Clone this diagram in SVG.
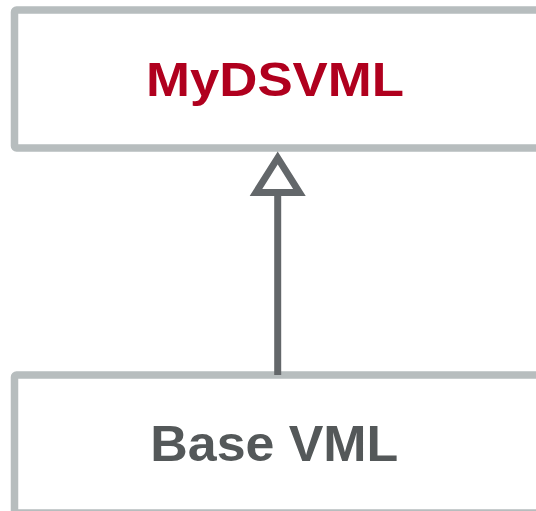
<svg xmlns="http://www.w3.org/2000/svg" width="536" height="511" viewBox="0 0 536 511">
  <style>
    .box { fill: #ffffff; stroke: #b7bdbe; stroke-width: 7.5; }
    .label { font-family: "Liberation Sans", Arial, sans-serif; font-weight: bold; text-anchor: middle; }
    .conn { stroke: #63676a; stroke-width: 7; fill: none; }
    .head { fill: #ffffff; stroke: #63676a; stroke-width: 7; stroke-linejoin: miter; }
  </style>
  <rect width="536" height="511" fill="#ffffff"/>
  <g id="node-mydsvml">
    <rect class="box" x="14.5" y="10" width="560" height="138" rx="2"/>
    <text class="label" x="275" y="95.7" font-size="48" fill="#b0001e" textLength="258" lengthAdjust="spacingAndGlyphs">MyDSVML</text>
  </g>
  <g id="node-base-vml">
    <rect class="box" x="14.5" y="375" width="560" height="138" rx="2"/>
    <text class="label" x="274.3" y="460.7" font-size="50" fill="#545859" textLength="248" lengthAdjust="spacingAndGlyphs">Base VML</text>
  </g>
  <g id="connectors">
    <line class="conn" x1="277.7" y1="192" x2="277.7" y2="375"/>
    <polygon class="head" points="277.7,158 256,192.5 299.4,192.5"/>
  </g>
</svg>
